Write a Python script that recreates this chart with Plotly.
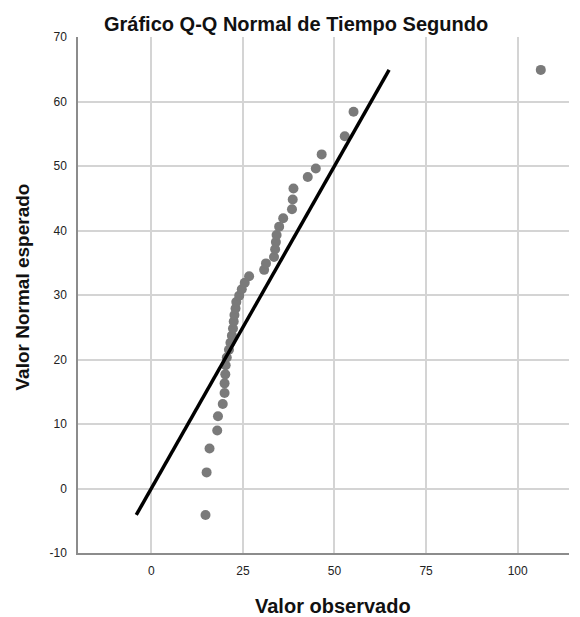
import plotly.graph_objects as go

observed = [14.8, 15.1, 15.9, 18.0, 18.2, 19.5, 20.0, 20.0, 20.2, 20.3,
            20.6, 21.2, 21.6, 22.0, 22.3, 22.5, 22.7, 23.0, 23.2, 24.0,
            24.7, 25.5, 26.7, 30.8, 31.3, 33.5, 33.8, 34.0, 34.2, 34.9,
            36.0, 38.4, 38.6, 38.8, 42.7, 44.9, 46.5, 52.8, 55.2, 106.3]
expected = [-4.1, 2.5, 6.2, 9.0, 11.2, 13.1, 14.8, 16.3, 17.7, 19.1,
            20.3, 21.5, 22.6, 23.7, 24.8, 25.9, 26.9, 27.9, 28.9, 29.9,
            30.9, 31.9, 32.9, 33.9, 34.9, 35.9, 37.1, 38.2, 39.3, 40.6,
            41.9, 43.3, 44.8, 46.5, 48.3, 49.6, 51.8, 54.6, 58.4, 64.9]

# Reference line (y = x) endpoints
ref_line = [-4.1, 64.9]

x_ticks = [0, 25, 50, 75, 100]
x_labels = ["0", "25", "50", "75", "100"]
y_ticks = [-10, 0, 10, 20, 30, 40, 50, 60, 70]
y_labels = ["-10", "0", "10", "20", "30", "40", "50", "60", "70"]

title_text = "Gráfico Q-Q Normal de Tiempo Segundo"
x_title = "Valor observado"
y_title = "Valor Normal esperado"

FONT = "Liberation Sans, Arial, sans-serif"

fig = go.Figure()
fig.add_trace(go.Scatter(
    x=observed, y=expected, mode="markers",
    marker=dict(color="#7a7a7a", size=10, line=dict(width=0)),
    showlegend=False, hoverinfo="x+y"))
fig.add_trace(go.Scatter(
    x=ref_line, y=ref_line, mode="lines",
    line=dict(color="black", width=3.5),
    showlegend=False, hoverinfo="skip"))

fig.update_layout(
    width=572, height=609,
    margin=dict(l=70, r=11, t=29, b=64),
    paper_bgcolor="white", plot_bgcolor="white",
    font=dict(family=FONT, color="#222222", size=12),
    xaxis=dict(range=[-20, 114], tickvals=x_ticks, ticktext=x_labels,
               showgrid=True, gridcolor="#d4d4d4", gridwidth=1.5, zeroline=False,
               showline=True, linecolor="#8c8c8c", linewidth=1.5,
               ticks="outside", ticklen=6, tickcolor="rgba(0,0,0,0)",
               tickfont=dict(size=12, color="#222222")),
    yaxis=dict(range=[-10, 70], tickvals=y_ticks, ticktext=y_labels,
               showgrid=True, gridcolor="#d4d4d4", gridwidth=1.5, zeroline=False,
               showline=True, linecolor="#8c8c8c", linewidth=1.5,
               ticks="outside", ticklen=7, tickcolor="rgba(0,0,0,0)",
               tickfont=dict(size=12, color="#222222")),
    annotations=[
        dict(text="<b>" + title_text + "</b>", xref="paper", yref="paper",
             x=0.444, y=1.026, xanchor="center", yanchor="middle",
             showarrow=False, font=dict(family=FONT, size=20, color="#111111")),
        dict(text="<b>" + x_title + "</b>", xref="paper", yref="paper",
             x=0.519, y=-0.103, xanchor="center", yanchor="middle",
             showarrow=False, font=dict(family=FONT, size=20, color="#111111")),
        dict(text="<b>" + y_title + "</b>", xref="paper", yref="paper",
             x=-0.114, y=0.5145, xanchor="center", yanchor="middle",
             textangle=-90, showarrow=False,
             font=dict(family=FONT, size=19, color="#111111")),
    ],
)

fig.write_html("out.html")
